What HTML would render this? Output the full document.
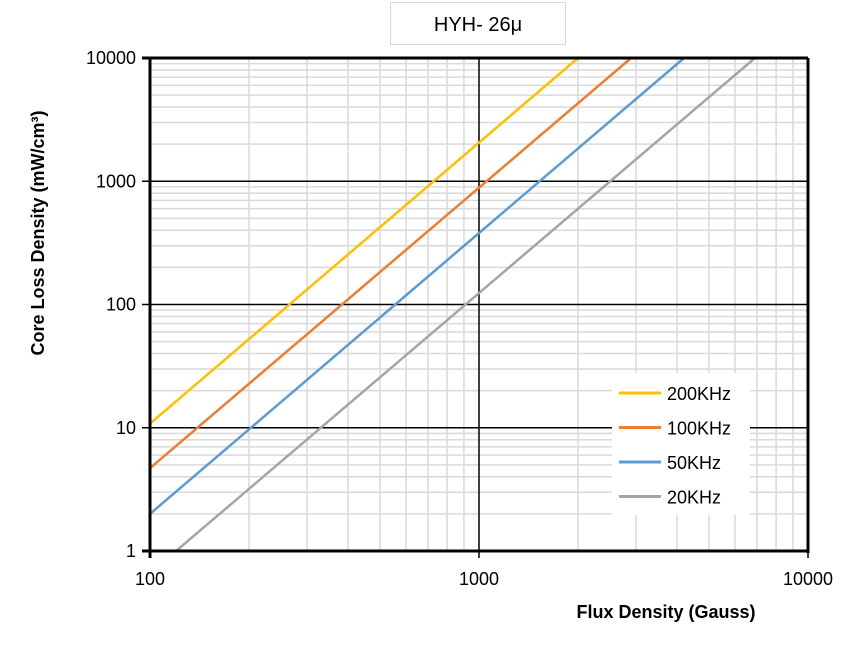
<!DOCTYPE html>
<html><head><meta charset="utf-8"><style>
body{margin:0;background:#fff;font-family:"Liberation Sans",Arial,sans-serif}
</style></head><body>
<svg width="863" height="653" viewBox="0 0 863 653" xmlns="http://www.w3.org/2000/svg">
<rect x="0" y="0" width="863" height="653" fill="#fff"/>
<g>
<rect x="390.5" y="2.5" width="175" height="42" fill="#fff" stroke="#d9d9d9"/>
<text x="478" y="31" text-anchor="middle" font-size="20" fill="#000">HYH- 26μ</text>
</g>
<g id="grid"></g>
<g id="series"></g>
<g id="axes"></g>
<g id="legend"></g>
<text x="666" y="618" text-anchor="middle" font-size="18" font-weight="bold">Flux Density (Gauss)</text>
<text transform="translate(44,233) rotate(-90)" text-anchor="middle" font-size="18" font-weight="bold">Core Loss Density (mW/cm³)</text>
</svg>
<script>
const seriesNames=["200KHz","100KHz","50KHz","20KHz"];
const seriesColors=["#ffc000","#ed7d31","#5b9bd5","#a5a5a5"];
const seriesX=[[100,2000],[100,2900],[100,4200],[120,6900]];
const seriesY=[[10.8,10000],[4.7,10000],[2.0,10000],[1,10000]];
const xTicks=[100,1000,10000];
const yTicks=[1,10,100,1000,10000];
const NS="http://www.w3.org/2000/svg";
const X0=150,X1=808,Y0=551,Y1=58;
function xs(v){return X0+(Math.log10(v)-2)/2*(X1-X0);}
function ys(v){return Y0-(Math.log10(v))/4*(Y0-Y1);}
function mk(tag,attrs,parent){const e=document.createElementNS(NS,tag);for(const k in attrs)e.setAttribute(k,attrs[k]);parent.appendChild(e);return e;}
const grid=document.getElementById('grid');
for(let d=2;d<4;d++)for(let m=2;m<10;m++){const x=xs(m*Math.pow(10,d));
const l=mk('line',{x1:x,x2:x,y1:Y1,y2:Y0,stroke:'#d9d9d9','stroke-width':1.5},grid);

}
for(let d=0;d<4;d++)for(let m=2;m<10;m++){const y=ys(m*Math.pow(10,d));
const l=mk('line',{x1:X0,x2:X1,y1:y,y2:y,stroke:'#d9d9d9','stroke-width':1.5},grid);

}
xTicks.forEach(v=>{const x=xs(v);
const l=mk('line',{x1:x,x2:x,y1:Y1,y2:Y0+7,stroke:'#000','stroke-width':1.5},grid);


const t=mk('text',{x:x,y:585,'text-anchor':'middle','font-size':18},grid);t.textContent=v;

});
yTicks.forEach(v=>{const y=ys(v);
const l=mk('line',{x1:X0-8,x2:X1,y1:y,y2:y,stroke:'#000','stroke-width':1.5},grid);


const t=mk('text',{x:136,y:y+6,'text-anchor':'end','font-size':18},grid);t.textContent=v;

});
const sg=document.getElementById('series');
seriesNames.forEach((n,i)=>{
const l=mk('line',{x1:xs(seriesX[i][0]),y1:ys(seriesY[i][0]),x2:xs(seriesX[i][1]),y2:ys(seriesY[i][1]),stroke:seriesColors[i],'stroke-width':2.5},sg);

});
const ax=document.getElementById('axes');
const a1=mk('line',{x1:X0-8,x2:X1,y1:Y0,y2:Y0,stroke:'#000','stroke-width':3},ax);


const a2=mk('line',{x1:X1,x2:X1,y1:Y1,y2:Y0+2,stroke:'#000','stroke-width':3},ax);


const a3=mk('line',{x1:X0,x2:X0,y1:Y1,y2:Y0+7,stroke:'#000','stroke-width':3},ax);


const a4=mk('line',{x1:X0-8,x2:X1,y1:Y1,y2:Y1,stroke:'#000','stroke-width':3},ax);


const lg=document.getElementById('legend');
mk('rect',{x:612,y:373,width:138,height:142,fill:'#fff'},lg);
seriesNames.forEach((n,i)=>{const y=393+i*34.5;
const g=mk('g',{},lg);


mk('line',{x1:619,x2:661,y1:y,y2:y,stroke:seriesColors[i],'stroke-width':3},g);
const t=mk('text',{x:667,y:y+7,'font-size':18},g);t.textContent=n;});
</script>
</body></html>
